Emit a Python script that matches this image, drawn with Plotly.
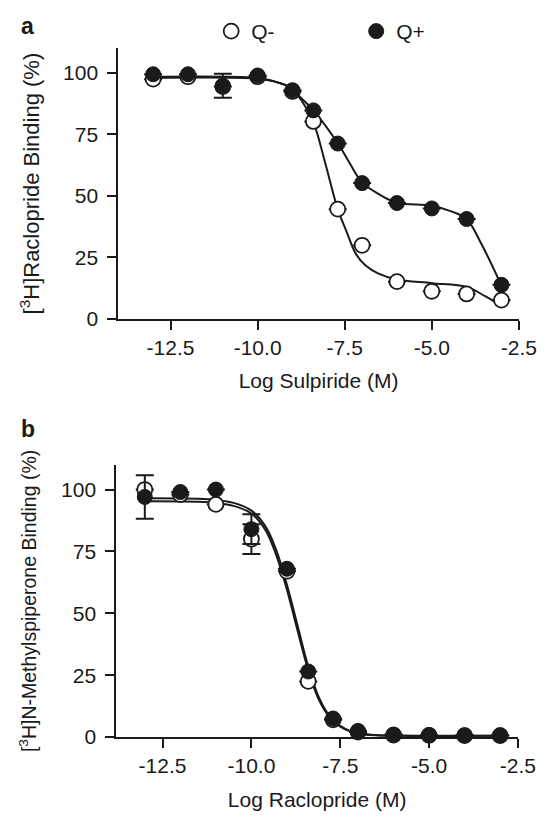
import plotly.graph_objects as go

# ---- panel a: sulpiride vs [3H]raclopride ----
log_sulpiride = [-13, -12, -11, -10, -9, -8.4, -7.7, -7, -6, -5, -4, -3]
a_qminus = [97.5, 98.5, 94.5, 98.5, 92.5, 80.3, 44.6, 29.9, 15.1, 11.2, 10.1, 7.6]
a_qplus = [99.5, 99.5, 94.8, 99, 93, 84.8, 71.3, 55.2, 47.1, 44.9, 40.6, 13.8]
a_qplus_err = [0, 0, 4.9, 0, 0, 0, 0, 0, 0, 0, 0, 0]

# fitted curves
a_fit_minus_x = [-13, -10, -9.5, -9, -8.75, -8.4, -8.06, -7.7, -7.45, -7.18, -6.9, -6.53, -6, -5, -4, -3.47, -3]
a_fit_minus_y = [98, 97.7, 96.5, 93.5, 89, 80, 63.4, 44.6, 35.6, 26.4, 21.7, 18.4, 16, 14.5, 12.9, 9.2, 5.2]
a_fit_plus_x = [-13, -10, -9.5, -9.1, -8.75, -8.4, -7.68, -7.36, -7, -6.53, -6, -5, -4.4, -4, -3.57, -3]
a_fit_plus_y = [98.5, 98, 96.5, 94.4, 89.8, 84.8, 71, 63.4, 55.5, 50.8, 47.2, 46, 43.5, 40.6, 30.3, 13.5]

# ---- panel b: raclopride vs [3H]N-methylspiperone ----
log_raclopride = [-13, -12, -11, -10, -9, -8.4, -7.7, -7, -6, -5, -4, -3]
b_qminus = [100, 98, 94, 80, 67, 22.5, 7, 2, 0.8, 0.7, 0.6, 0.6]
b_qminus_err = [0, 0, 0, 6, 0, 0, 0, 0, 0, 0, 0, 0]
b_qplus = [97, 99, 100, 84, 68, 26.5, 7.5, 2.5, 1, 0.8, 0.7, 0.7]
b_qplus_err = [8.8, 0, 0, 6, 0, 0, 0, 0, 0, 0, 0, 0]

b_fit_x = [-13, -11.5, -11, -10.5, -10, -9.6, -9.3, -9, -8.7, -8.4, -8.1, -7.8, -7.5, -7.2, -6.9, -6.5, -6, -3]
b_fit_plus_y = [96.5, 96.3, 95.8, 94.6, 91.5, 85, 75.5, 61.5, 45, 28.5, 16, 8.5, 4.5, 2.3, 1.3, 0.8, 0.6, 0.5]
b_fit_minus_y = [95.3, 95.1, 94.6, 93.4, 90.3, 83.5, 73.5, 59.5, 43, 27, 15, 8, 4.2, 2.2, 1.2, 0.7, 0.5, 0.5]

x_ticks = [-12.5, -10, -7.5, -5, -2.5]
x_ticktext = ["-12.5", "-10.0", "-7.5", "-5.0", "-2.5"]
y_ticks = [0, 25, 50, 75, 100]

FONT = "Liberation Sans, Arial, sans-serif"
INK = "#1a1a1a"
W, H = 555, 819

fig = go.Figure()


def add_panel(fig, xa, ya, xs, qm, qp, qm_err, qp_err, fits, legend):
    for fx, fy in fits:
        fig.add_trace(go.Scatter(x=fx, y=fy, mode="lines", xaxis=xa, yaxis=ya,
                                 line=dict(color=INK, width=2, shape="spline", smoothing=1),
                                 showlegend=False, hoverinfo="skip"))
    fig.add_trace(go.Scatter(x=xs, y=qm, mode="markers", name="Q-", xaxis=xa, yaxis=ya,
                             showlegend=legend, cliponaxis=False,
                             error_y=dict(type="data", array=qm_err, color=INK, thickness=2, width=9),
                             marker=dict(size=15, color="white", line=dict(color=INK, width=1.8))))
    fig.add_trace(go.Scatter(x=xs, y=qp, mode="markers", name="Q+", xaxis=xa, yaxis=ya,
                             showlegend=legend, cliponaxis=False,
                             error_y=dict(type="data", array=qp_err, color=INK, thickness=2, width=9),
                             marker=dict(size=15, color=INK, line=dict(color=INK, width=1))))


add_panel(fig, "x", "y", log_sulpiride, a_qminus, a_qplus, [0] * 12, a_qplus_err,
          [(a_fit_minus_x, a_fit_minus_y), (a_fit_plus_x, a_fit_plus_y)], True)
add_panel(fig, "x2", "y2", log_raclopride, b_qminus, b_qplus, b_qminus_err, b_qplus_err,
          [(b_fit_x, b_fit_minus_y), (b_fit_x, b_fit_plus_y)], False)

axis_common = dict(showline=True, linecolor=INK, linewidth=2, ticks="outside", ticklen=9,
                   tickwidth=2, tickcolor=INK, showgrid=False, zeroline=False,
                   tickfont=dict(size=21, color=INK, family=FONT))

fig.update_layout(
    width=W, height=H,
    margin=dict(l=0, r=0, t=0, b=0),
    paper_bgcolor="white", plot_bgcolor="white",
    font=dict(family=FONT, color=INK, size=21),
    xaxis=dict(domain=[114 / W, 528 / W], range=[-14, -2.5], anchor="y",
               tickvals=x_ticks, ticktext=x_ticktext,
               title=dict(text="Log Sulpiride (M)", standoff=15,
                          font=dict(size=21, color=INK, family=FONT)), **axis_common),
    yaxis=dict(domain=[1 - 315 / H, 1 - 41 / H], range=[0, 110], anchor="x",
               tickvals=y_ticks, ticklabelstandoff=5,
               title=dict(text="[<sup>3</sup>H]Raclopride Binding (%)", standoff=17,
                          font=dict(size=22, color=INK, family=FONT)), **axis_common),
    xaxis2=dict(domain=[112 / W, 527 / W], range=[-13.8, -2.5], anchor="y2",
                tickvals=x_ticks, ticktext=x_ticktext,
                title=dict(text="Log Raclopride (M)", standoff=16,
                           font=dict(size=21, color=INK, family=FONT)), **axis_common),
    yaxis2=dict(domain=[1 - 739 / H, 1 - 463 / H], range=[0, 110], anchor="x2",
                tickvals=y_ticks, ticklabelstandoff=5,
                title=dict(text="[<sup>3</sup>H]N-Methylspiperone Binding (%)", standoff=19,
                           font=dict(size=19.5, color=INK, family=FONT)), **axis_common),
    legend=dict(orientation="h", x=210 / W, y=1 - 3 / H, xanchor="left", yanchor="top",
                entrywidth=100, entrywidthmode="pixels",
                font=dict(size=21, color=INK, family=FONT), bgcolor="rgba(0,0,0,0)"),
    annotations=[
        dict(text="<b>a</b>", x=11 / W, y=1 - 3 / H, xref="paper", yref="paper",
             xanchor="left", yanchor="top", showarrow=False, font=dict(size=23, color=INK)),
        dict(text="<b>b</b>", x=11 / W, y=1 - 412 / H, xref="paper", yref="paper",
             xanchor="left", yanchor="top", showarrow=False, font=dict(size=23, color=INK)),
    ],
)

fig.write_html("out.html")
